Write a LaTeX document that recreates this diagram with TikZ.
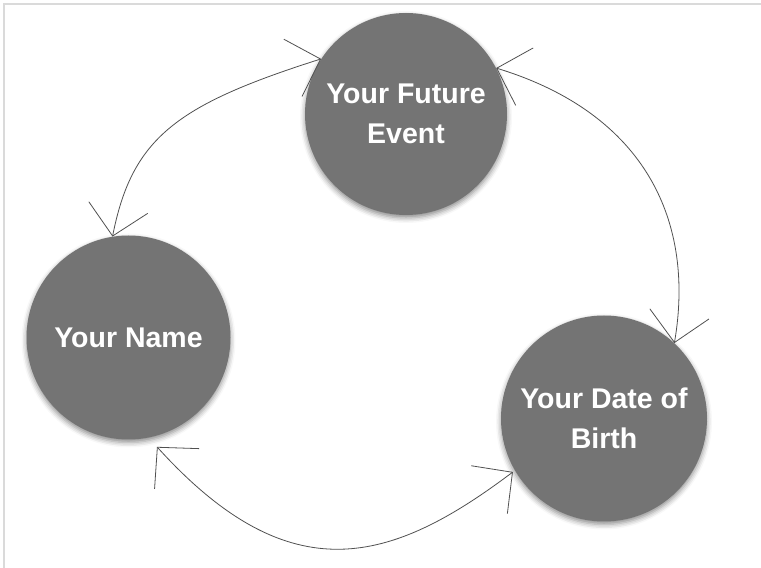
\documentclass[tikz,border=0pt]{standalone}
\usepackage{fontspec}
\setmainfont{Liberation Sans}
\usetikzlibrary{arrows.meta,shadows.blur,calc}
\definecolor{circfill}{RGB}{116,116,116}
\definecolor{framegray}{RGB}{218,218,218}
\definecolor{linegray}{RGB}{80,80,80}
\begin{document}
\begin{tikzpicture}[x=1pt,y=1pt,
  bubble/.style={circle, fill=circfill, text=white,
    font=\bfseries\fontsize{28.5}{40}\selectfont, align=center, inner sep=0pt,
    blur shadow={shadow xshift=0pt,shadow yshift=-3pt,shadow blur radius=5pt,shadow opacity=45}},
  link/.style={draw=linegray, line width=0.8pt,
    {Straight Barb[length=29pt,width=60pt]}-{Straight Barb[length=29pt,width=60pt]}}]
\useasboundingbox (0,0) rectangle (761,568);
\draw[framegray, line width=1.5pt] (4,0) -- (4,564) -- (761,564);
\node[bubble, minimum size=202pt] (fe) at (406,454) {Your Future\\Event};
\node[bubble, minimum size=204pt] (nm) at (128.5,230.5) {Your Name};
\node[bubble, minimum size=206pt] (db) at (604,149.5) {Your Date of\\Birth};
\coordinate (nmB) at ($(nm.center)+(-75.4:113pt)$);
\coordinate (dbL) at ($(db.center)+(210.4:105.6pt)$);
\draw[link] (fe.147) .. controls (176,463) and (132,430) .. (nm.99);
\draw[link] (fe.27) .. controls (647,454) and (695,345) .. (db.47);
\draw[link] (nmB) .. controls (291,-27) and (392,5) .. (dbL);
\end{tikzpicture}
\end{document}
